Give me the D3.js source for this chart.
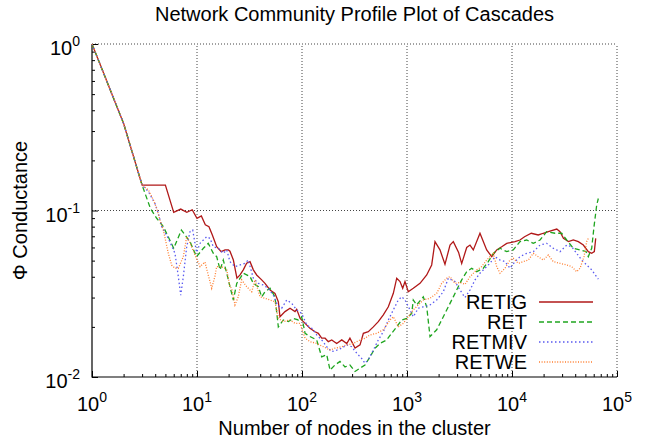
<!DOCTYPE html>
<html>
<head>
<meta charset="utf-8">
<script src="https://cdn.jsdelivr.net/npm/d3@7"></script>
<style>
  body { margin: 0; background: #fff; }
  text { font-family: "Liberation Sans", Arial, sans-serif; fill: #000; }
</style>
</head>
<body>
<div id="chart"></div>
<script>
const width = 645;
const height = 441;
const margin = {left: 92, right: 28, top: 44, bottom: 64};

// series: [cluster size, conductance]
const retig = [
  [1,1],[2,0.333],[3,0.142],[5,0.142],[6,0.0975],[7,0.102],[8,0.0975],[9,0.101],[10,0.0898],[11,0.0927],
  [12,0.082],[13,0.08],[14,0.0713],[15.4,0.0606],[17,0.0566],[18.5,0.058],[19.9,0.058],[20.6,0.057],[22.2,0.0504],[24,0.0392],
  [25.7,0.041],[27.6,0.044],[29.7,0.0482],[32,0.0493],[34.4,0.044],[37,0.041],[41.3,0.0383],[44.4,0.0365],[49.6,0.0333],[55.3,0.0318],
  [59.5,0.0283],[61.7,0.023],[68.9,0.0247],[76.9,0.0259],[85.8,0.0247],[89,0.0255],[96,0.0225],[107,0.021],[119,0.0196],[133,0.0187],
  [143,0.0183],[154,0.0171],[166,0.0171],[178,0.0163],[192,0.0167],[214,0.0159],[239,0.0167],[267,0.0159],[286,0.0171],[320,0.0149],
  [357,0.0156],[384,0.0183],[428,0.0187],[478,0.02],[533,0.0215],[595,0.0236],[664,0.0264],[741,0.0318],[798,0.0392],[858,0.0374],
  [910,0.0341],[957,0.0374],[1028,0.0325],[1148,0.0341],[1330,0.0365],[1541,0.041],[1718,0.0471],[1848,0.065],[2061,0.058],[2300,0.0475],
  [2569,0.062],[2761,0.065],[3100,0.056],[3318,0.048],[3704,0.06],[3981,0.062],[4280,0.058],[4955,0.073],[5741,0.058],[6412,0.0528],
  [7150,0.058],[7980,0.0606],[8910,0.0635],[10680,0.065],[11910,0.0665],[13160,0.0696],[15260,0.073],[17780,0.0713],[19860,0.073],[22180,0.0746],
  [26700,0.0774],[28640,0.0746],[30900,0.068],[34500,0.065],[38370,0.0665],[42800,0.065],[47800,0.062],[53300,0.0566],[57400,0.0553],[60800,0.0566],
  [62700,0.068]
];

const ret = [
  [1,1],[2,0.333],[3,0.142],[3.6,0.103],[4.13,0.0898],[4.78,0.08],[6,0.0593],[7.1,0.0763],[8.58,0.065],[9.9,0.0528],
  [11.5,0.0593],[12.8,0.0635],[14.3,0.0553],[15.4,0.0528],[16.6,0.044],[17.8,0.0504],[19.2,0.042],[20.6,0.0349],[22.2,0.029],[23.9,0.0365],
  [27.6,0.042],[32,0.0401],[34.4,0.0365],[38.4,0.0349],[41.3,0.0303],[44.4,0.0325],[49.6,0.0341],[55.3,0.0303],[59.5,0.02],[66.4,0.022],
  [74.1,0.0215],[82.6,0.0225],[92.2,0.022],[99.3,0.023],[107,0.0183],[119,0.0175],[138,0.0167],[154,0.0132],[172,0.0136],[185,0.011],
  [206,0.0118],[230,0.0124],[257,0.0115],[286,0.0118],[320,0.0108],[357,0.0113],[398,0.0118],[444,0.0132],[496,0.0149],[553,0.0159],
  [641,0.0167],[714,0.0183],[798,0.02],[891,0.022],[993,0.0225],[1109,0.0241],[1148,0.029],[1236,0.0271],[1429,0.0303],[1541,0.0264],
  [1656,0.0175],[1918,0.0192],[2300,0.0241],[2761,0.0303],[3318,0.0383],[3704,0.0429],[4130,0.045],[4613,0.0429],[5333,0.045],[5943,0.0493],
  [6637,0.0553],[7690,0.0593],[8910,0.0566],[10280,0.058],[11910,0.065],[13800,0.0665],[15960,0.0635],[18490,0.0665],[21380,0.0746],[25700,0.073],
  [29720,0.073],[33190,0.0665],[38370,0.0593],[44440,0.058],[50700,0.0566],[53300,0.0528],[57400,0.0593],[60400,0.08],[64100,0.108],[66400,0.118]
];

const retmiv = [
  [1,1],[2,0.333],[3,0.142],[3.44,0.13],[3.98,0.11],[4.28,0.0962],[4.61,0.08],[5.33,0.068],[6.17,0.0553],[6.64,0.0401],
  [7,0.031],[7.41,0.0401],[7.98,0.0606],[8.58,0.0746],[9.1,0.0763],[9.57,0.0635],[9.9,0.056],[10.7,0.0635],[11.5,0.0665],[12.4,0.0696],
  [13.3,0.068],[14.3,0.0606],[16,0.0593],[17.8,0.0553],[19.2,0.058],[20.6,0.0493],[23,0.046],[25.7,0.0471],[28.6,0.0482],[30.8,0.0504],
  [34.4,0.0392],[38.4,0.0365],[42.8,0.0357],[47.8,0.0341],[53.3,0.031],[58.2,0.0271],[64.1,0.0259],[71.5,0.029],[79.8,0.0277],[89.1,0.0253],
  [99.3,0.0241],[111,0.0205],[124,0.0196],[138,0.0179],[154,0.0167],[172,0.0152],[192,0.0142],[214,0.0145],[239,0.0149],[267,0.0156],
  [297,0.0152],[332,0.0139],[371,0.0129],[398,0.0121],[428,0.0127],[478,0.0145],[533,0.0167],[595,0.0187],[664,0.022],[741,0.0253],
  [826,0.029],[891,0.0303],[957,0.029],[1068,0.0253],[1148,0.023],[1282,0.0259],[1429,0.0264],[1656,0.0271],[1918,0.029],[2217,0.0325],
  [2474,0.0392],[2865,0.0374],[3198,0.0333],[3566,0.03],[3981,0.0333],[4444,0.0383],[4955,0.042],[5533,0.045],[6170,0.0482],[6890,0.0528],
  [7690,0.0504],[8580,0.0493],[9570,0.045],[10680,0.0493],[11910,0.0528],[13800,0.0553],[15960,0.0566],[18490,0.062],[21380,0.0635],[24730,0.0593],
  [28640,0.0566],[33190,0.062],[37070,0.0606],[41300,0.0553],[46130,0.0504],[51400,0.0471],[57400,0.044],[66400,0.0387]
];

const retwe = [
  [1,1],[2,0.333],[3,0.142],[3.44,0.133],[3.84,0.116],[4.13,0.103],[4.44,0.0877],[4.78,0.0763],[5.33,0.0553],[5.74,0.047],
  [6.17,0.045],[6.64,0.045],[7.41,0.0528],[7.98,0.0696],[8.58,0.064],[9.57,0.054],[10.7,0.046],[11.9,0.049],[12.8,0.041],[13.8,0.0341],
  [14.8,0.0401],[15.4,0.046],[17.2,0.046],[19.2,0.044],[20.6,0.0349],[21.4,0.0341],[23,0.0271],[24.7,0.0303],[26.6,0.0383],[29.7,0.0349],
  [33.2,0.0325],[35.7,0.0383],[39.8,0.0303],[44.4,0.0297],[49.6,0.029],[55.3,0.0283],[59.5,0.0225],[66.4,0.0215],[76.9,0.022],[85.8,0.021],
  [95.7,0.021],[107,0.0171],[119,0.0163],[138,0.0159],[160,0.0152],[185,0.0145],[206,0.0149],[239,0.0152],[267,0.0156],[308,0.0159],
  [357,0.0167],[398,0.0171],[444,0.0179],[514,0.0183],[595,0.0192],[689,0.022],[741,0.023],[826,0.02],[922,0.021],[1028,0.023],
  [1148,0.0253],[1282,0.0271],[1429,0.029],[1656,0.0297],[1918,0.0318],[2139,0.0365],[2389,0.0392],[2569,0.0401],[2865,0.0365],[3198,0.037],
  [3566,0.036],[3981,0.04],[4613,0.044],[5142,0.046],[5741,0.0504],[6170,0.0528],[6637,0.0553],[7150,0.046],[7690,0.042],[8580,0.045],
  [9570,0.0504],[10280,0.0516],[11480,0.0482],[12820,0.0493],[14290,0.0504],[15960,0.0553],[17780,0.0528],[19860,0.0504],[22180,0.054],[24730,0.0493],
  [28640,0.0482],[33190,0.0471],[37070,0.046],[41300,0.0429],[44440,0.045],[48530,0.0528],[51400,0.065],[53300,0.068]
];

const seriesNames = ["RETIG", "RET", "RETMIV", "RETWE"];
const seriesData = [retig, ret, retmiv, retwe];
const seriesColors = ["#b01818", "#1fa51f", "#5a5af0", "#ff7f30"];
const seriesDash = [null, "5,3", "1.5,2.5", "1,1.6"];

const xMajor = [1, 10, 100, 1000, 10000, 100000];
const xExp = ["0", "1", "2", "3", "4", "5"];
const yMajor = [0.01, 0.1, 1];
const yExp = ["-2", "-1", "0"];

const svg = d3.select("#chart").append("svg")
    .attr("width", width)
    .attr("height", height);

const x = d3.scaleLog()
    .domain([1, 1e5])
    .range([margin.left, width - margin.right]);

const y = d3.scaleLog()
    .domain([0.01, 1])
    .range([height - margin.bottom, margin.top]);

// grid (dotted), including top and right edges
svg.append("g").selectAll("line.gx")
    .data(xMajor.slice(1))
    .enter().append("line")
    .attr("x1", d => x(d)).attr("x2", d => x(d))
    .attr("y1", y(0.01)).attr("y2", y(1))
    .attr("stroke", "#444").attr("stroke-width", 1)
    .attr("stroke-dasharray", "1,2");

svg.append("g").selectAll("line.gy")
    .data(yMajor.slice(1))
    .enter().append("line")
    .attr("x1", x(1)).attr("x2", x(1e5))
    .attr("y1", d => y(d)).attr("y2", d => y(d))
    .attr("stroke", "#444").attr("stroke-width", 1)
    .attr("stroke-dasharray", "1,2");

// minor ticks
const xMinor = x.ticks().filter(d => !xMajor.includes(d));
const yMinor = y.ticks().filter(d => !yMajor.some(m => Math.abs(m - d) < 1e-9));

svg.append("g")
    .attr("transform", `translate(0,${y(0.01)})`)
    .call(d3.axisBottom(x).tickValues(xMinor).tickSize(-3).tickFormat(""))
    .call(g => g.select(".domain").remove());

svg.append("g")
    .attr("transform", `translate(0,${y(0.01)})`)
    .call(d3.axisBottom(x).tickValues(xMajor).tickSize(-6).tickFormat(""))
    .call(g => g.select(".domain").remove());

svg.append("g")
    .attr("transform", `translate(${x(1)},0)`)
    .call(d3.axisLeft(y).tickValues(yMinor).tickSize(-3).tickFormat(""))
    .call(g => g.select(".domain").remove());

svg.append("g")
    .attr("transform", `translate(${x(1)},0)`)
    .call(d3.axisLeft(y).tickValues(yMajor).tickSize(-6).tickFormat(""))
    .call(g => g.select(".domain").remove());

// border: left and bottom only
svg.append("path")
    .attr("d", `M${x(1)},${y(1)}V${y(0.01)}H${x(1e5)}`)
    .attr("fill", "none").attr("stroke", "#000").attr("stroke-width", 1.2);

// tick labels with superscripts
const xl = svg.append("g").selectAll("text")
    .data(xMajor)
    .enter().append("text")
    .attr("x", d => x(d))
    .attr("y", y(0.01) + 34)
    .attr("text-anchor", "middle")
    .style("font-size", "20px");
xl.append("tspan").text("10");
xl.append("tspan").attr("dy", -9).style("font-size", "14px").text((d, i) => xExp[i]);

const yl = svg.append("g").selectAll("text")
    .data(yMajor)
    .enter().append("text")
    .attr("x", x(1) - 12)
    .attr("y", d => y(d) + 11)
    .attr("text-anchor", "end")
    .style("font-size", "20px");
yl.append("tspan").text("10");
yl.append("tspan").attr("dy", -9).style("font-size", "14px").text((d, i) => yExp[i]);

// series
const line = d3.line()
    .x(d => x(d[0]))
    .y(d => y(d[1]));

svg.append("g").selectAll("path")
    .data(seriesData)
    .enter().append("path")
    .attr("d", line)
    .attr("fill", "none")
    .attr("stroke", (d, i) => seriesColors[i])
    .attr("stroke-width", 1.3)
    .attr("stroke-dasharray", (d, i) => seriesDash[i]);

// legend
const leg = svg.append("g").selectAll("g")
    .data(seriesNames)
    .enter().append("g")
    .attr("transform", (d, i) => `translate(0,${302 + i * 20})`);

leg.append("text")
    .attr("x", 527)
    .attr("y", 7)
    .attr("text-anchor", "end")
    .style("font-size", "20px")
    .text(d => d);

leg.append("line")
    .attr("x1", 539).attr("x2", 593)
    .attr("stroke", (d, i) => seriesColors[i])
    .attr("stroke-width", 1.3)
    .attr("stroke-dasharray", (d, i) => seriesDash[i]);

// titles
svg.append("text")
    .attr("x", (x(1) + x(1e5)) / 2)
    .attr("y", 21)
    .attr("text-anchor", "middle")
    .style("font-size", "20px")
    .text("Network Community Profile Plot of Cascades");

svg.append("text")
    .attr("x", (x(1) + x(1e5)) / 2)
    .attr("y", 435)
    .attr("text-anchor", "middle")
    .style("font-size", "20px")
    .text("Number of nodes in the cluster");

svg.append("text")
    .attr("transform", `translate(27,${(y(1) + y(0.01)) / 2}) rotate(-90)`)
    .attr("text-anchor", "middle")
    .style("font-size", "20px")
    .text("Φ Conductance");
</script>
</body>
</html>
